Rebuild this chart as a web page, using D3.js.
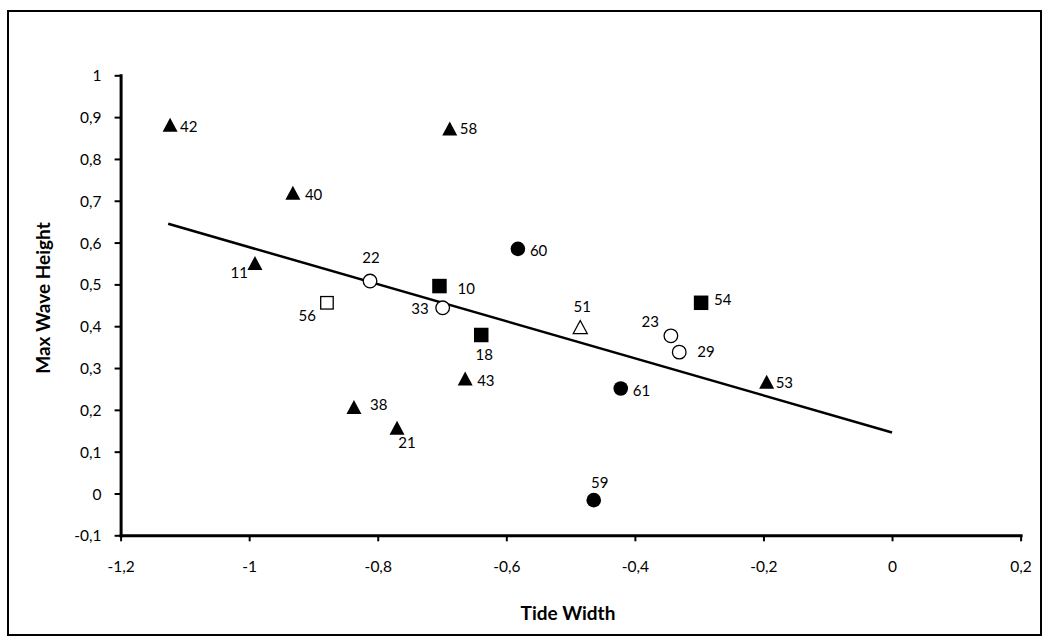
<!DOCTYPE html>
<html>
<head>
<meta charset="utf-8">
<script src="https://cdn.jsdelivr.net/npm/d3@7"></script>
<style>
  html, body { margin: 0; padding: 0; background: #fff; }
  svg { display: block; }
  text { font-family: Lato, "Open Sans", sans-serif; fill: #000; }
</style>
</head>
<body>
<svg id="chart" width="1048" height="643"></svg>
<script>
// ---- data ----
const ids = ["42","58","40","11","22","56","10","33","18","43","60","51","61","59","23","29","54","53","38","21"];
const tideWidth = [-1.123,-0.688,-0.932,-0.991,-0.812,-0.879,-0.704,-0.699,-0.639,-0.664,-0.582,-0.485,-0.422,-0.464,-0.344,-0.331,-0.297,-0.195,-0.837,-0.770];
const maxWaveHeight = [0.882,0.873,0.719,0.551,0.508,0.456,0.496,0.444,0.379,0.275,0.585,0.398,0.251,-0.016,0.377,0.338,0.456,0.267,0.207,0.157];
const markerType = ["triangle","triangle","triangle","triangle","circle-open","square-open","square","circle-open","square","triangle","circle","triangle-open","circle","circle","circle-open","circle-open","square","triangle","triangle","triangle"];
const trendX = [-1.126, 0];
const trendY = [0.645, 0.146];
const xTicks = [-1.2,-1,-0.8,-0.6,-0.4,-0.2,0,0.2];
const xTickLabels = ["-1,2","-1","-0,8","-0,6","-0,4","-0,2","0","0,2"];
const yTicks = [-0.1,0,0.1,0.2,0.3,0.4,0.5,0.6,0.7,0.8,0.9,1];
const yTickLabels = ["-0,1","0","0,1","0,2","0,3","0,4","0,5","0,6","0,7","0,8","0,9","1"];
const xTitle = "Tide Width";
const yTitle = "Max Wave Height";

// ---- label placement (layout only) ----
const labelPos = {
  "42": ["start", 10, 2],  "58": ["start", 10, 0],  "40": ["start", 12, 2],
  "11": ["end", -7, 10],   "22": ["middle", 1, -23], "56": ["end", -11, 13],
  "10": ["start", 18, 3],  "33": ["end", -14, 1],   "18": ["middle", 3, 20],
  "43": ["start", 12, 2],  "60": ["start", 12, 2],  "51": ["middle", 2, -20],
  "61": ["start", 12, 2],  "59": ["middle", 6, -18], "23": ["end", -12, -14],
  "29": ["start", 18, -1], "54": ["start", 13, -3], "53": ["start", 9, 1],
  "38": ["start", 16, -2], "21": ["middle", 10, 15]
};

const svg = d3.select("#chart");
const x = d3.scaleLinear().domain([-1.2, 0.2]).range([120.6, 1020.6]);
const y = d3.scaleLinear().domain([-0.1, 1]).range([535.3, 75.3]);

// outer border
svg.append("rect").attr("x", 8).attr("y", 11).attr("width", 1033).attr("height", 624)
  .attr("fill", "#fff").attr("stroke", "#000").attr("stroke-width", 2);

// axes
const xAxis = d3.axisBottom(x).tickValues(xTicks).tickFormat((d, i) => xTickLabels[i])
  .tickSizeInner(6).tickSizeOuter(0);
const gx = svg.append("g").attr("transform", `translate(0,${y(-0.1)})`).call(xAxis);
gx.select(".domain").attr("stroke", "#000").attr("stroke-width", 3).attr("stroke-linecap", "square");
gx.selectAll(".tick line").attr("stroke", "#000").attr("stroke-width", 2);
gx.selectAll(".tick text").attr("y", 37).attr("dy", null)
  .style("font-size", "15.5px").style("font-family", "Lato, sans-serif").attr("fill", "#000");

const yAxis = d3.axisLeft(y).tickValues(yTicks).tickFormat((d, i) => yTickLabels[i])
  .tickSizeInner(6).tickSizeOuter(0).tickPadding(13);
const gy = svg.append("g").attr("transform", `translate(${x(-1.2)},0)`).call(yAxis);
gy.select(".domain").attr("stroke", "#000").attr("stroke-width", 3).attr("stroke-linecap", "square");
gy.selectAll(".tick line").attr("stroke", "#000").attr("stroke-width", 2);
gy.selectAll(".tick text").style("font-size", "15.5px").style("font-family", "Lato, sans-serif")
  .attr("dy", "0.36em").attr("fill", "#000");

// trend line
const line = d3.line().x(d => x(d[0])).y(d => y(d[1]));
svg.append("path").datum(trendX.map((v, i) => [v, trendY[i]]))
  .attr("d", line).attr("fill", "none").attr("stroke", "#000").attr("stroke-width", 2.5);

// markers
const pts = ids.map((id, i) => ({ id, xv: tideWidth[i], yv: maxWaveHeight[i], t: markerType[i] }));
const g = svg.append("g");
pts.forEach(p => {
  const cx = x(p.xv), cy = y(p.yv);
  const open = p.t.endsWith("-open");
  const fill = open ? "#fff" : "#000";
  const sw = open ? 1.3 : 0;
  if (p.t.startsWith("triangle")) {
    const w = open ? 14 : 15, h = open ? 13 : 14;
    g.append("path")
      .attr("d", `M${cx - w/2},${cy + h/2}L${cx + w/2},${cy + h/2}L${cx},${cy - h/2}Z`)
      .attr("fill", fill).attr("stroke", "#000").attr("stroke-width", sw).attr("stroke-linejoin", "miter");
  } else if (p.t.startsWith("circle")) {
    g.append("circle").attr("cx", cx).attr("cy", cy).attr("r", open ? 6.8 : 7.3)
      .attr("fill", fill).attr("stroke", "#000").attr("stroke-width", sw);
  } else {
    const s = open ? 12.5 : 14.5;
    g.append("rect").attr("x", cx - s/2).attr("y", cy - s/2).attr("width", s).attr("height", s)
      .attr("fill", fill).attr("stroke", "#000").attr("stroke-width", sw);
  }
  const lp = labelPos[p.id];
  g.append("text").attr("x", cx + lp[1]).attr("y", cy + lp[2]).attr("dy", "0.36em")
    .attr("text-anchor", lp[0]).style("font-size", "15px").text(p.id);
});

// axis titles
svg.append("text").attr("x", 568).attr("y", 613).attr("dy", "0.36em").attr("text-anchor", "middle")
  .style("font-size", "19px").style("font-weight", "bold").text(xTitle);
svg.append("text").attr("transform", "translate(43,298) rotate(-90)").attr("dy", "0.36em")
  .attr("text-anchor", "middle").style("font-size", "19px").style("font-weight", "bold").text(yTitle);
</script>
</body>
</html>
